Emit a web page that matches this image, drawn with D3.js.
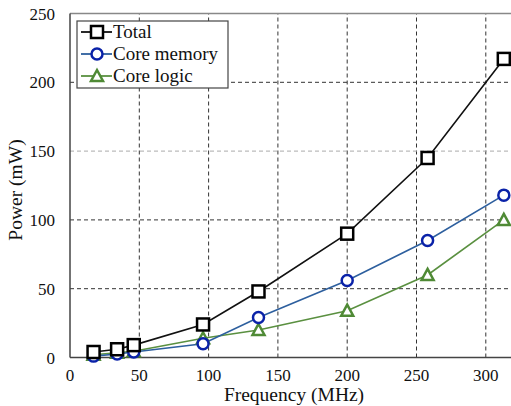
<!DOCTYPE html>
<html>
<head>
<meta charset="utf-8">
<script src="https://cdn.jsdelivr.net/npm/d3@7"></script>
<style>
  body { margin: 0; background: #fff; }
  svg text { font-family: "Liberation Serif", "Liberation Sans", sans-serif; }
</style>
</head>
<body>
<div id="chart"></div>
<script>
// dati
const freq = [17, 34, 46, 96, 136, 200, 258, 313];
const total = [4, 6, 9, 24, 48, 90, 145, 217];
const coreMemory = [1, 2.5, 4, 10, 29, 56, 85, 118];
const coreLogic = [2, 3.5, 4.5, 14, 20, 34, 60, 100];
const xTicks = [0, 50, 100, 150, 200, 250, 300];
const yTicks = [0, 50, 100, 150, 200, 250];

const width = 511, height = 406;
const margin = { top: 13.5, left: 70, bottom: 48.5 };

const svg = d3.select("#chart").append("svg")
  .attr("width", width).attr("height", height);

const x = d3.scaleLinear().domain([0, 320]).range([margin.left, margin.left + 1.386 * 320]);
const y = d3.scaleLinear().domain([0, 250]).range([height - margin.bottom, margin.top]);

// griglia
svg.append("g").selectAll("line").data(xTicks.slice(1)).enter().append("line")
  .attr("x1", d => x(d)).attr("x2", d => x(d))
  .attr("y1", y(0)).attr("y2", y(250))
  .attr("stroke", "#333").attr("stroke-width", 1).attr("stroke-dasharray", "4,3");

svg.append("g").selectAll("line").data(yTicks.slice(1, -1)).enter().append("line")
  .attr("x1", x(0)).attr("x2", width)
  .attr("y1", d => y(d)).attr("y2", d => y(d))
  .attr("stroke", d => d === 150 ? "#aaa" : "#333")
  .attr("stroke-width", 1).attr("stroke-dasharray", "4,3");

// bordi
svg.append("line").attr("x1", x(0)).attr("x2", width).attr("y1", y(250)).attr("y2", y(250))
  .attr("stroke", "#888").attr("stroke-width", 1.5);
svg.append("line").attr("x1", x(0)).attr("x2", x(0)).attr("y1", y(0)).attr("y2", y(250))
  .attr("stroke", "#444").attr("stroke-width", 1.5);
svg.append("line").attr("x1", x(0)).attr("x2", width).attr("y1", y(0)).attr("y2", y(0))
  .attr("stroke", "#444").attr("stroke-width", 1.5);

// etichette assi
svg.append("g").selectAll("text").data(yTicks).enter().append("text")
  .attr("x", 55).attr("y", d => y(d) + 6)
  .attr("text-anchor", "end").attr("font-size", 17).attr("fill", "#111")
  .text(d => d);

svg.append("g").selectAll("text").data(xTicks).enter().append("text")
  .attr("x", d => x(d)).attr("y", 381)
  .attr("text-anchor", "middle").attr("font-size", 17).attr("fill", "#111")
  .text(d => d);

svg.append("text")
  .attr("transform", "translate(22," + 190 + ") rotate(-90)")
  .attr("text-anchor", "middle").attr("font-size", 19.5).attr("fill", "#111")
  .text("Power (mW)");

svg.append("text")
  .attr("x", 294).attr("y", 401)
  .attr("text-anchor", "middle").attr("font-size", 19.5).attr("fill", "#111")
  .text("Frequency (MHz)");

const series = [
  { name: "Total", values: total, line: "#111", mark: "#000", shape: "square" },
  { name: "Core memory", values: coreMemory, line: "#2d5f9e", mark: "#0a22a8", shape: "circle" },
  { name: "Core logic", values: coreLogic, line: "#5a9040", mark: "#4f8a35", shape: "triangle" }
];

function drawMarker(sel, s) {
  if (s.shape === "square") {
    sel.append("rect").attr("x", -6).attr("y", -6).attr("width", 12).attr("height", 12)
      .attr("fill", "#fff").attr("stroke", s.mark).attr("stroke-width", 2.5);
  } else if (s.shape === "circle") {
    sel.append("circle").attr("r", 5.5)
      .attr("fill", "#fff").attr("stroke", s.mark).attr("stroke-width", 2.5);
  } else {
    sel.append("path").attr("d", "M0,-6L6,5L-6,5Z")
      .attr("fill", "#fff").attr("stroke", s.mark).attr("stroke-width", 2.5)
      .attr("stroke-linejoin", "miter");
  }
}

const line = d3.line().x((d, i) => x(freq[i])).y(d => y(d));

// disegna dal basso: logic, memory, total
series.slice().reverse().forEach(s => {
  svg.append("path").datum(s.values)
    .attr("d", line).attr("fill", "none")
    .attr("stroke", s.line).attr("stroke-width", 1.6);
});
series.slice().reverse().forEach(s => {
  svg.append("g").selectAll("g").data(s.values).enter().append("g")
    .attr("transform", (d, i) => `translate(${x(freq[i])},${y(d)})`)
    .each(function() { drawMarker(d3.select(this), s); });
});

// legenda
const legend = svg.append("g");
legend.append("rect").attr("x", 77).attr("y", 21).attr("width", 151).attr("height", 67)
  .attr("fill", "#fff").attr("stroke", "#444").attr("stroke-width", 1.2);

series.forEach((s, i) => {
  const ly = 32 + i * 22;
  legend.append("line").attr("x1", 81).attr("x2", 112).attr("y1", ly).attr("y2", ly)
    .attr("stroke", s.line).attr("stroke-width", 1.8);
  drawMarker(legend.append("g").attr("transform", `translate(97,${ly})`), s);
  legend.append("text").attr("x", 113).attr("y", ly + 6)
    .attr("font-size", 19).attr("fill", "#111").text(s.name);
});
</script>
</body>
</html>
